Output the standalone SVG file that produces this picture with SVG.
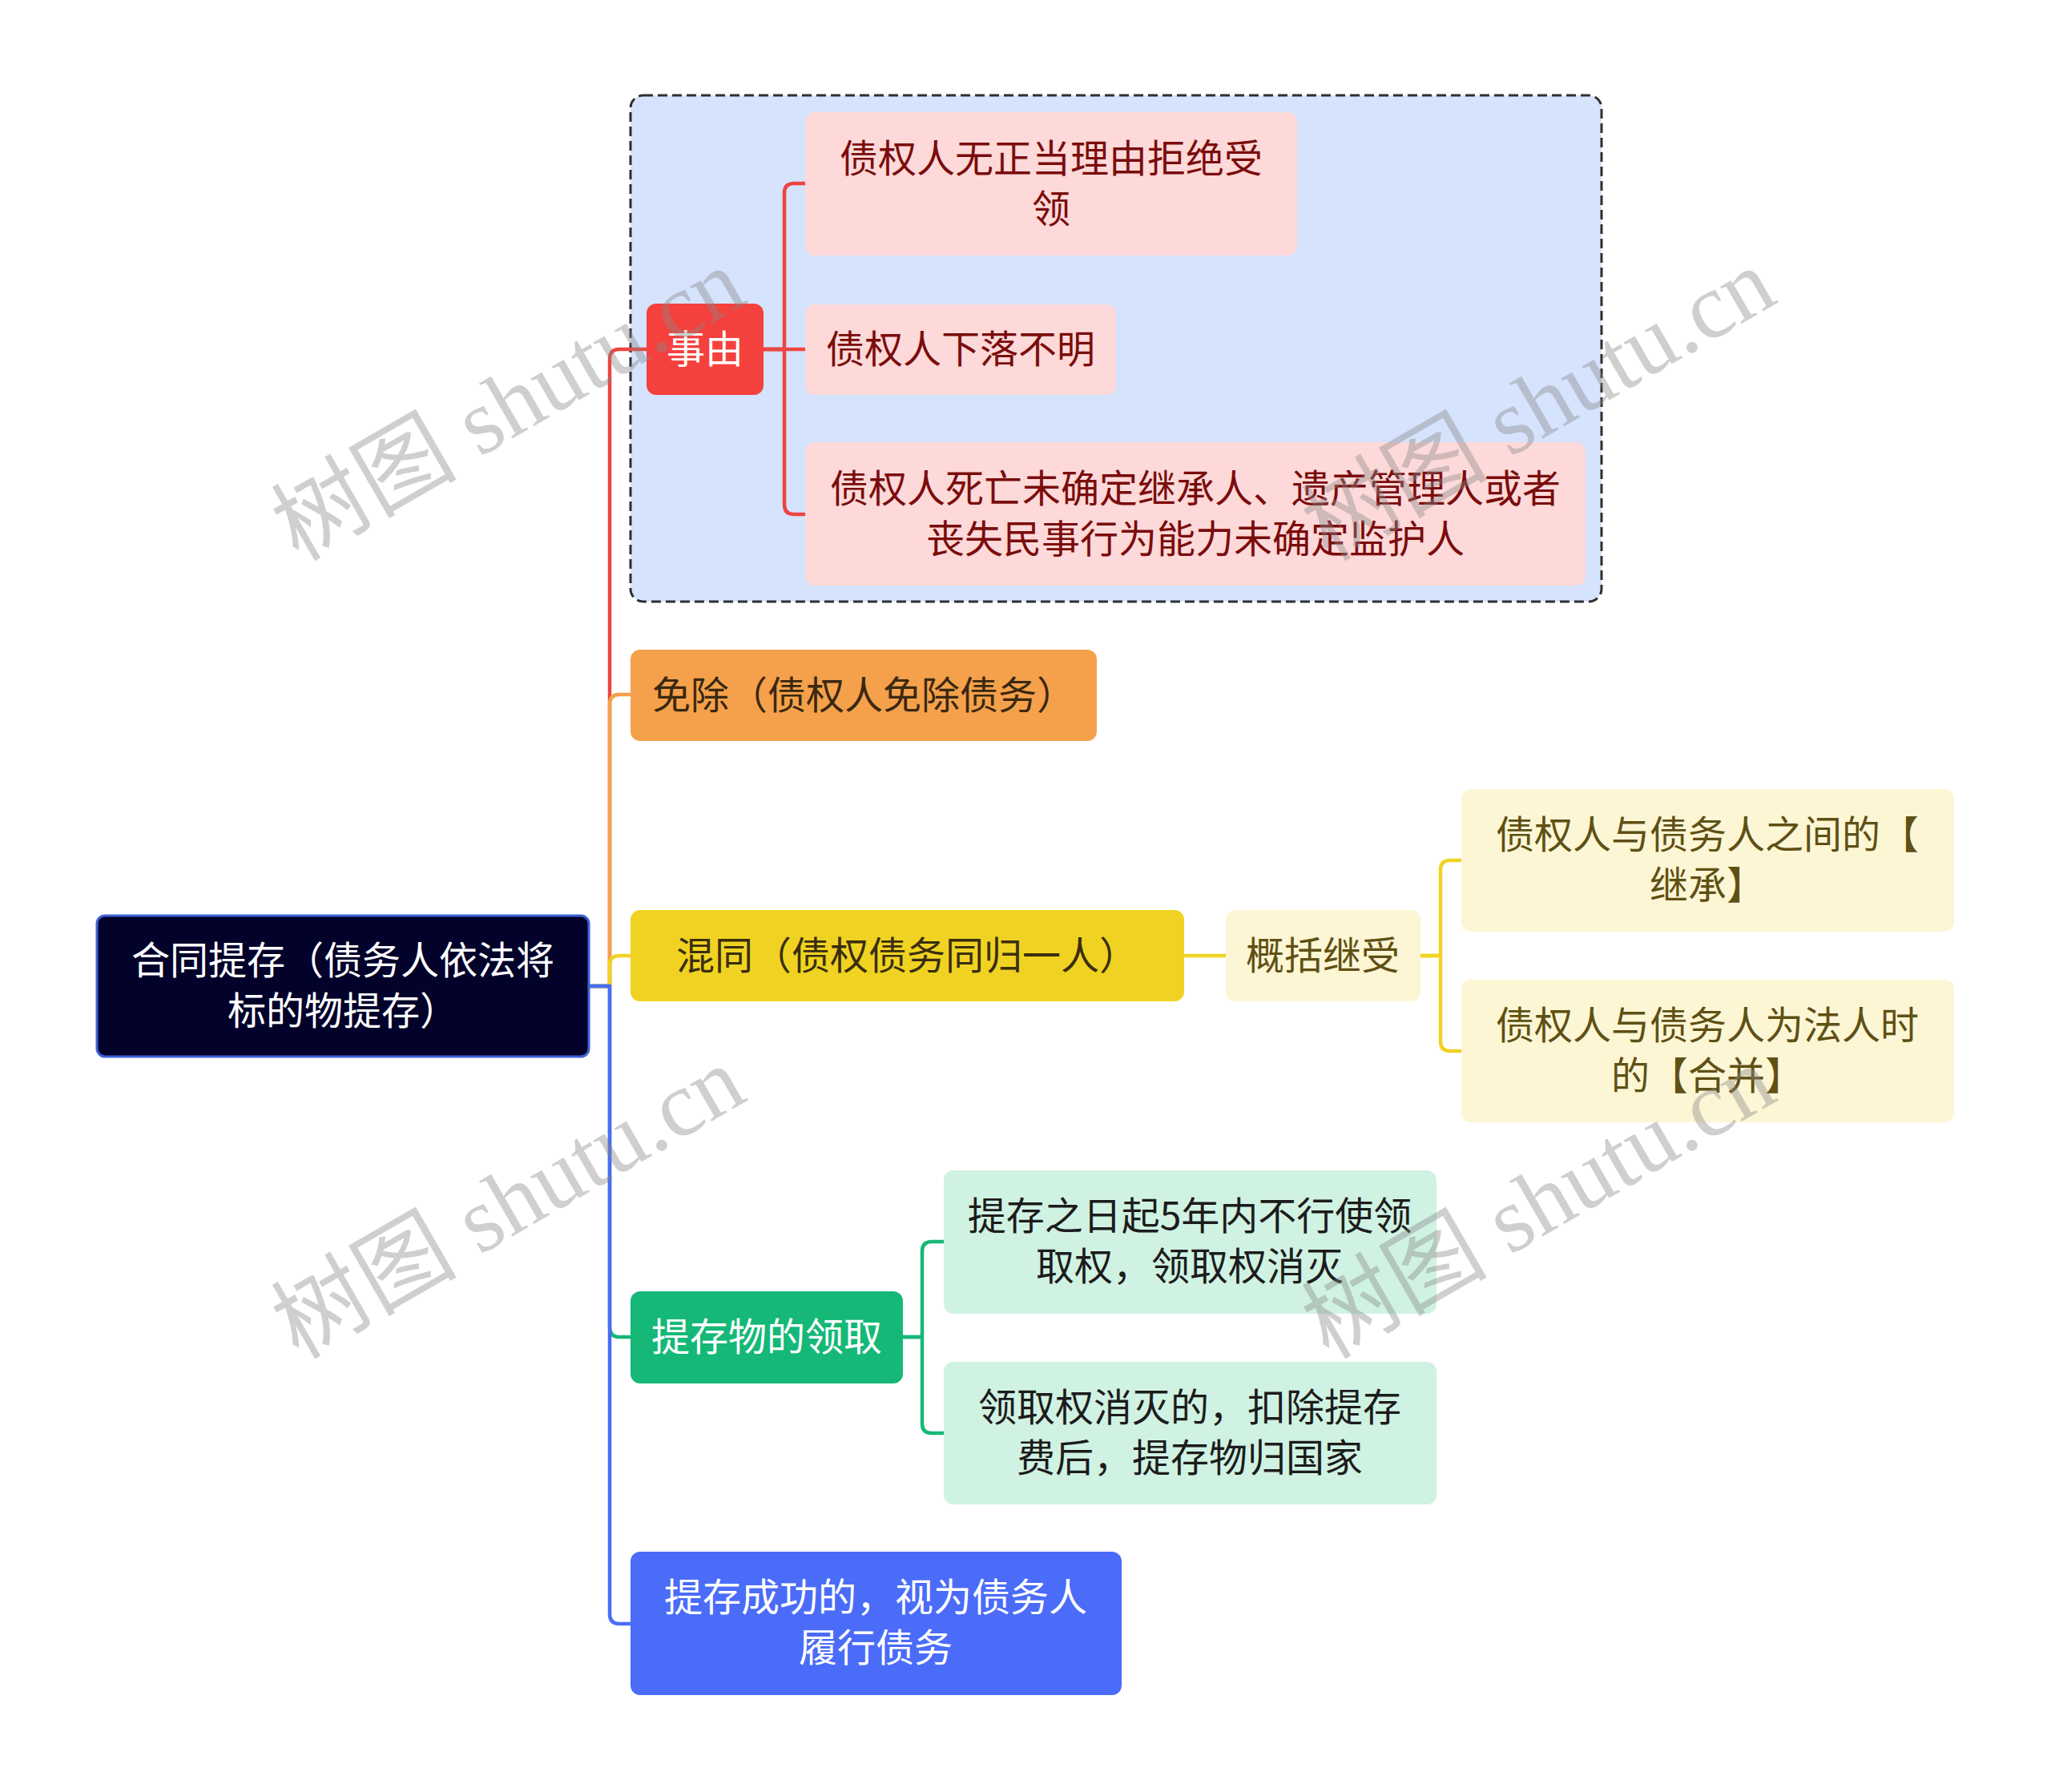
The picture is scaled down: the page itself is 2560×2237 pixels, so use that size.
<svg xmlns="http://www.w3.org/2000/svg" width="2560" height="2237" viewBox="0 0 2560 2237">
<style>
text{font-family:"Noto Sans CJK SC","Noto Sans",sans-serif;font-size:48px;text-anchor:middle}
.ln{fill:none;stroke-width:4.5;stroke-linejoin:round;stroke-linecap:round}
.wm{font-family:"Liberation Serif","Noto Sans CJK SC",serif;font-size:116px;fill:#888;fill-opacity:0.4}
</style>
<rect width="2560" height="2237" fill="#ffffff"/>
<g id="boundary">
<rect x="787" y="119" width="1212" height="632" rx="16" fill="#d5e3fc" stroke="#2f2f2f" stroke-width="3" stroke-dasharray="12 6"/>
</g>
<g id="connectors">
<path class="ln" stroke="#ec4540" d="M735,1231 H761 V448 Q761,436 773,436 H807"/>
<path class="ln" stroke="#f4a04a" d="M735,1231 H761 V879 Q761,867 773,867 H787"/>
<path class="ln" stroke="#f0d322" d="M735,1231 H761 V1205 Q761,1193 773,1193 H787"/>
<path class="ln" stroke="#15b877" d="M735,1231 H761 V1657 Q761,1669 773,1669 H787"/>
<path class="ln" stroke="#4a6cf8" d="M735,1231 H761 V2015 Q761,2027 773,2027 H787"/>
<path class="ln" stroke="#ec4540" d="M953,436 H979 V241 Q979,229 991,229 H1005"/>
<path class="ln" stroke="#ec4540" d="M953,436 H1005"/>
<path class="ln" stroke="#ec4540" d="M953,436 H979 V630 Q979,642 991,642 H1005"/>
<path class="ln" stroke="#f0d322" d="M1478,1193 H1530"/>
<path class="ln" stroke="#f0d322" d="M1773,1193 H1798 V1086 Q1798,1074 1810,1074 H1824"/>
<path class="ln" stroke="#f0d322" d="M1773,1193 H1798 V1300 Q1798,1312 1810,1312 H1824"/>
<path class="ln" stroke="#15b877" d="M1127,1669 H1151 V1562 Q1151,1550 1163,1550 H1178"/>
<path class="ln" stroke="#15b877" d="M1127,1669 H1151 V1777 Q1151,1789 1163,1789 H1178"/>
</g>
<g id="root">
<rect x="121" y="1143" width="614" height="176" rx="10" fill="#02022a" stroke="#3d62d8" stroke-width="3"/>
<text fill="#ffffff"><tspan x="428" y="1216">合同提存（债务人依法将</tspan><tspan x="428" y="1279">标的物提存）</tspan></text>
</g>
<g id="n-shiyou">
<rect x="807" y="379" width="146" height="114" rx="12" fill="#f5413d"/>
<text x="880" y="453" fill="#ffffff">事由</text>
</g>
<g id="n-a1">
<rect x="1005" y="140" width="614" height="179" rx="12" fill="#fdd9d9"/>
<text fill="#7b0c0c"><tspan x="1312" y="215">债权人无正当理由拒绝受</tspan><tspan x="1312" y="278">领</tspan></text>
</g>
<g id="n-a2">
<rect x="1005" y="380" width="388" height="113" rx="12" fill="#fdd9d9"/>
<text x="1199" y="453" fill="#7b0c0c">债权人下落不明</text>
</g>
<g id="n-a3">
<rect x="1005" y="552" width="974" height="179" rx="12" fill="#fdd9d9"/>
<text fill="#7b0c0c"><tspan x="1492" y="627">债权人死亡未确定继承人、遗产管理人或者</tspan><tspan x="1492" y="690">丧失民事行为能力未确定监护人</tspan></text>
</g>
<g id="n-mianchu">
<rect x="787" y="811" width="582" height="114" rx="12" fill="#f5a14b"/>
<text x="1078" y="885" fill="#3a2810">免除（债权人免除债务）</text>
</g>
<g id="n-huntong">
<rect x="787" y="1136" width="691" height="114" rx="12" fill="#f0d322"/>
<text x="1132" y="1210" fill="#3a2e0e">混同（债权债务同归一人）</text>
</g>
<g id="n-gaikuo">
<rect x="1530" y="1136" width="243" height="114" rx="12" fill="#fdf6d5"/>
<text x="1651" y="1210" fill="#5f5014">概括继受</text>
</g>
<g id="n-b1">
<rect x="1824" y="985" width="615" height="178" rx="12" fill="#fdf6d5"/>
<text fill="#5f5014"><tspan x="2131" y="1059">债权人与债务人之间的【</tspan><tspan x="2131" y="1122">继承】</tspan></text>
</g>
<g id="n-b2">
<rect x="1824" y="1223" width="615" height="178" rx="12" fill="#fdf6d5"/>
<text fill="#5f5014"><tspan x="2131" y="1297">债权人与债务人为法人时</tspan><tspan x="2131" y="1360">的【合并】</tspan></text>
</g>
<g id="n-lingqu">
<rect x="787" y="1612" width="340" height="115" rx="12" fill="#15b877"/>
<text x="957" y="1686" fill="#ffffff">提存物的领取</text>
</g>
<g id="n-c1">
<rect x="1178" y="1461" width="615" height="179" rx="12" fill="#d0f2e3"/>
<text fill="#1c1c1c"><tspan x="1485" y="1535">提存之日起5年内不行使领</tspan><tspan x="1485" y="1598">取权，领取权消灭</tspan></text>
</g>
<g id="n-c2">
<rect x="1178" y="1700" width="615" height="178" rx="12" fill="#d0f2e3"/>
<text fill="#1c1c1c"><tspan x="1485" y="1774">领取权消灭的，扣除提存</tspan><tspan x="1485" y="1837">费后，提存物归国家</tspan></text>
</g>
<g id="n-chenggong">
<rect x="787" y="1937" width="613" height="179" rx="12" fill="#4a6cf8"/>
<text fill="#ffffff"><tspan x="1093" y="2011">提存成功的，视为债务人</tspan><tspan x="1093" y="2074">履行债务</tspan></text>
</g>
<g id="watermarks">
<text class="wm" transform="translate(654,539) rotate(-30)">树图 shutu.cn</text>
<text class="wm" transform="translate(1940,539) rotate(-30)">树图 shutu.cn</text>
<text class="wm" transform="translate(654,1535) rotate(-30)">树图 shutu.cn</text>
<text class="wm" transform="translate(1940,1535) rotate(-30)">树图 shutu.cn</text>
</g>
</svg>
